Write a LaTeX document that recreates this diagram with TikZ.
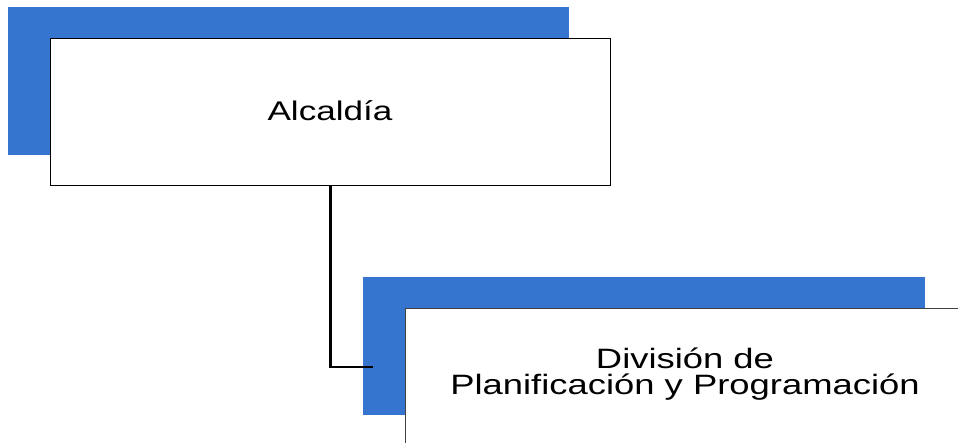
\documentclass[tikz,border=0pt]{standalone}
\usepackage{fontspec}
\newfontfamily\widefont[FakeStretch=1.3]{Liberation Sans}
\definecolor{shadeblue}{RGB}{53,117,207}
\begin{document}
\begin{tikzpicture}[x=1pt,y=-1pt,
  shade/.style={fill=shadeblue,draw=none},
  boxone/.style={draw=black,line width=1.2pt,fill=white},
  boxtwo/.style={draw=black!75,line width=1.2pt,fill=white},
  lbl/.style={font=\widefont\fontsize{27}{25}\selectfont,align=center,inner sep=0pt},
  lbltwo/.style={font=\widefont\fontsize{28}{25.5}\selectfont,align=center,inner sep=0pt},
  conn/.style={line width=2.4pt,draw=black}]
\useasboundingbox (0,0) rectangle (958,443);
\clip (0,0) rectangle (958,443);
\fill[shadeblue] (8,7) rectangle (569,155);
\node[boxone,minimum width=560pt,minimum height=147pt,inner sep=0pt,anchor=north west] (b1) at (50,38) {};
\node[lbl] (t1) at (330,111) {Alcaldía};
\fill[shadeblue] (363,277) rectangle (925,415);
\node[boxtwo,minimum width=560pt,minimum height=147pt,inner sep=0pt,anchor=north west] (b2) at (405,308) {};
\node[lbltwo] (t2) at (685,374) {División de\\Planificación y Programación};
\coordinate (e) at (373,367);
\draw[conn] (b1.south) |- (e);
\end{tikzpicture}
\end{document}
